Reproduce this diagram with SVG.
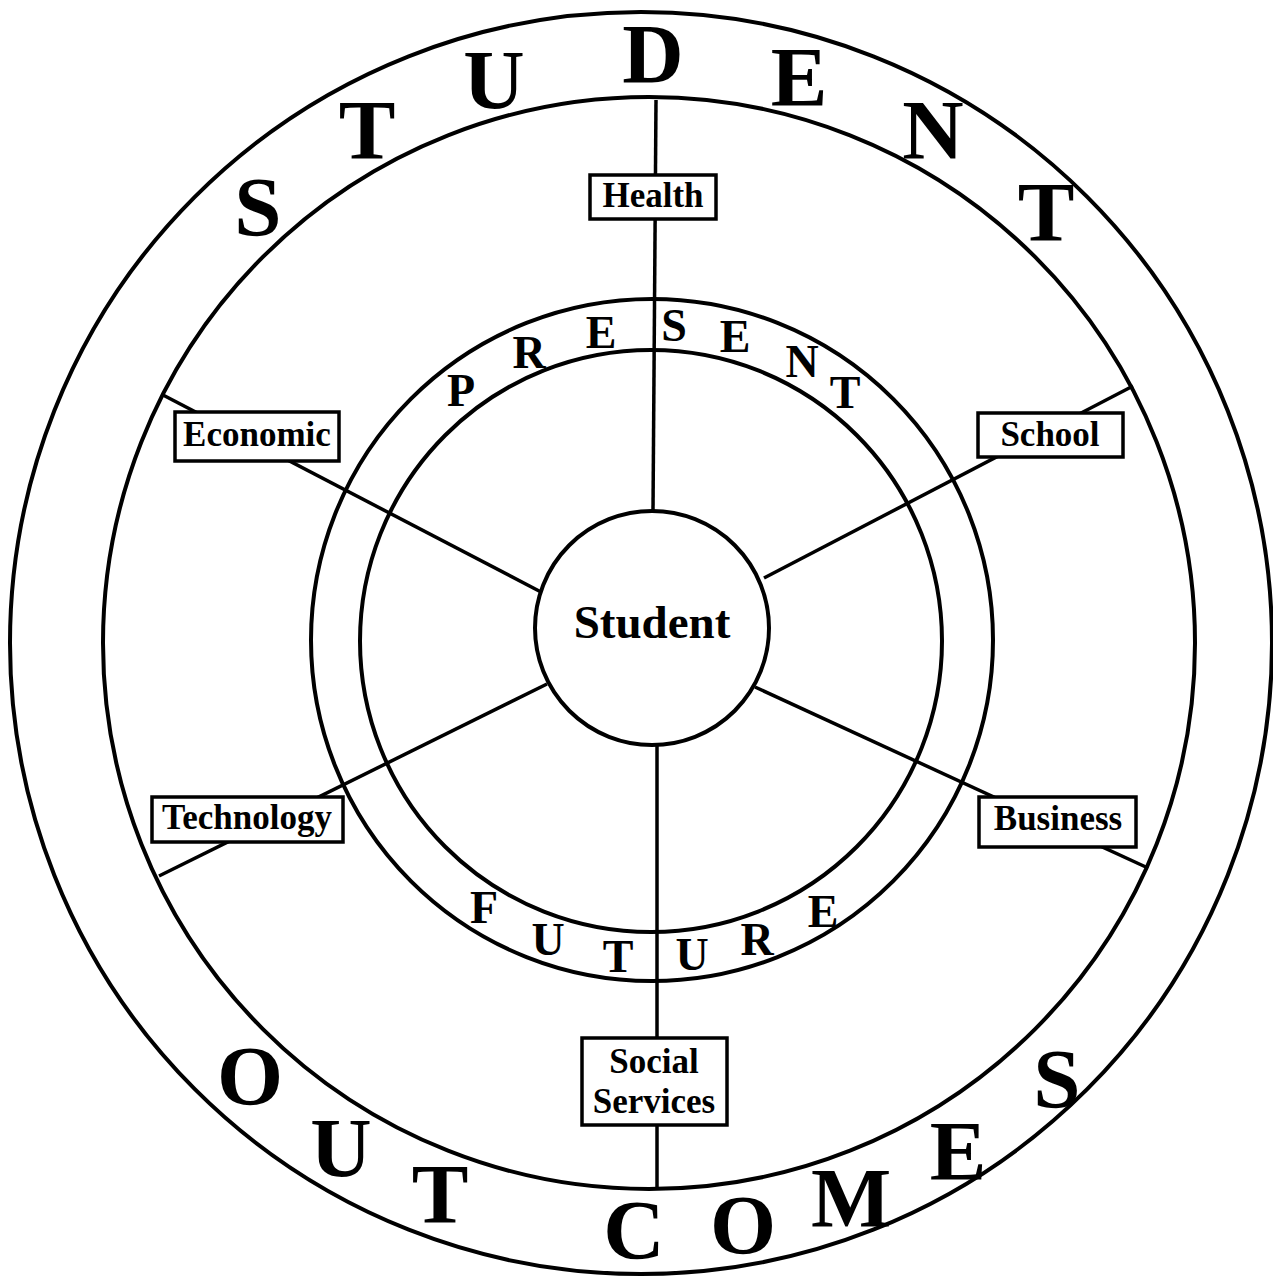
<svg xmlns="http://www.w3.org/2000/svg" width="1273" height="1277" viewBox="0 0 1273 1277">
<style>
.ring{fill:none;stroke:#000;stroke-width:4}
.conn{stroke:#000;stroke-width:3.5;fill:none}
.box{fill:#fff;stroke:#000;stroke-width:3.5}
.lbl{font-family:"Liberation Serif","Times New Roman",serif;font-weight:bold;font-size:35px;text-anchor:middle;fill:#000}
.big{font-family:"Liberation Serif","Times New Roman",serif;font-weight:bold;font-size:85px;text-anchor:middle;fill:#000}
.mid{font-family:"Liberation Serif","Times New Roman",serif;font-weight:bold;font-size:46px;text-anchor:middle;fill:#000}
.ctr{font-family:"Liberation Serif","Times New Roman",serif;font-weight:bold;font-size:47px;text-anchor:middle;fill:#000}
</style>
<rect width="1273" height="1277" fill="#fff"/>
<g id="rings">
<circle class="ring" cx="641" cy="643" r="631"/>
<circle class="ring" cx="649" cy="643" r="546"/>
<circle class="ring" cx="652" cy="640" r="341"/>
<circle class="ring" cx="651" cy="641" r="291"/>
</g>
<g id="connectors">
<line class="conn" x1="656" y1="100" x2="653" y2="511"/>
<line class="conn" x1="163" y1="395" x2="541" y2="592"/>
<line class="conn" x1="764" y1="578" x2="1133" y2="386"/>
<line class="conn" x1="547" y1="684" x2="159" y2="876"/>
<line class="conn" x1="755" y1="687" x2="1148" y2="868"/>
<line class="conn" x1="657" y1="746" x2="657" y2="1187"/>
</g>
<g id="student">
<circle class="ring" cx="652" cy="628" r="117" fill="#fff"/>
<text class="ctr" x="652" y="638">Student</text>
</g>
<g id="health">
<rect class="box" x="590" y="175" width="126" height="44"/>
<text class="lbl" x="653" y="207">Health</text>
</g>
<g id="economic">
<rect class="box" x="175" y="412" width="164" height="49"/>
<text class="lbl" x="257" y="446">Economic</text>
</g>
<g id="school">
<rect class="box" x="978" y="413" width="145" height="44"/>
<text class="lbl" x="1050" y="446">School</text>
</g>
<g id="technology">
<rect class="box" x="152" y="797" width="191" height="45"/>
<text class="lbl" x="247" y="829">Technology</text>
</g>
<g id="business">
<rect class="box" x="979" y="797" width="157" height="50"/>
<text class="lbl" x="1058" y="830">Business</text>
</g>
<g id="social-services">
<rect class="box" x="582" y="1038" width="145" height="87"/>
<text class="lbl" x="654" y="1073">Social</text>
<text class="lbl" x="654" y="1113">Services</text>
</g>
<g id="student-label">
<text class="big" x="258" y="236">S</text>
<text class="big" x="367" y="159">T</text>
<text class="big" x="494" y="109">U</text>
<text class="big" x="653" y="83">D</text>
<text class="big" x="799" y="106">E</text>
<text class="big" x="933" y="159">N</text>
<text class="big" x="1046" y="241">T</text>
</g>
<g id="outcomes-label">
<text class="big" x="250" y="1105">O</text>
<text class="big" x="341" y="1177">U</text>
<text class="big" x="440" y="1223">T</text>
<text class="big" x="634" y="1259">C</text>
<text class="big" x="743" y="1254">O</text>
<text class="big" x="851" y="1227">M</text>
<text class="big" x="958" y="1180">E</text>
<text class="big" x="1057" y="1108">S</text>
</g>
<g id="present-label">
<text class="mid" x="461" y="406">P</text>
<text class="mid" x="529" y="368">R</text>
<text class="mid" x="601" y="348">E</text>
<text class="mid" x="674" y="341">S</text>
<text class="mid" x="735" y="352">E</text>
<text class="mid" x="802" y="377">N</text>
<text class="mid" x="845" y="408">T</text>
</g>
<g id="future-label">
<text class="mid" x="484" y="923">F</text>
<text class="mid" x="548" y="955">U</text>
<text class="mid" x="618" y="972">T</text>
<text class="mid" x="692" y="970">U</text>
<text class="mid" x="757" y="955">R</text>
<text class="mid" x="823" y="927">E</text>
</g>
</svg>
